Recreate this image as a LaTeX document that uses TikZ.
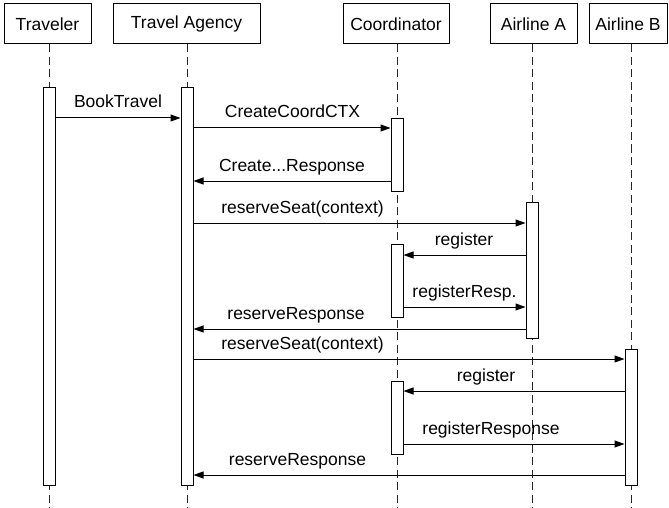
\documentclass[tikz,border=0pt]{standalone}
\usepackage{fontspec}
\setmainfont{Liberation Sans}
\usetikzlibrary{arrows.meta}

\begin{document}
\begin{tikzpicture}[x=1pt, y=-1pt, line width=1pt,
	font=\fontsize{17.5}{21}\selectfont,
	head/.style={draw, minimum height=40pt, inner sep=0pt},
	life/.style={dash pattern=on 8pt off 4.5pt, line width=0.8pt, black!85},
	bar/.style={draw, fill=white, minimum width=12pt, inner sep=0pt},
	msg/.style={-{Triangle[length=10pt,width=7pt]}},
	lbl/.style={anchor=base, inner sep=0pt}]
	\useasboundingbox (0,0) rectangle (669,508);
	% participants
	\node[head, minimum width=87pt]  (hTr) at (47.5,24)  {Traveler};
	\node[head, minimum width=147pt] (hTa) at (186.5,24) {Travel Agency};
	\node[head, minimum width=106pt] (hCo) at (396,24)   {Coordinator};
	\node[head, minimum width=87pt]  (hAa) at (533.5,24) {Airline A};
	\node[head, minimum width=78pt]  (hAb) at (628,24)   {Airline B};
	
	% lifelines
	\coordinate (eTr) at (49,508);
	\coordinate (eTa) at (187,508);
	\coordinate (eCo) at (397,508);
	\coordinate (eAa) at (532,508);
	\coordinate (eAb) at (631,508);
	\draw[life] (eTr |- hTr.south) -- (eTr);
	\draw[life] (eTa |- hTa.south) -- (eTa);
	\draw[life] (eCo |- hCo.south) -- (eCo);
	\draw[life] (eAa |- hAa.south) -- (eAa);
	\draw[life] (eAb |- hAb.south) -- (eAb);
	
	% activations
	\node[bar, minimum height=397pt] (aTr)  at (49,286.5)  {};
	\node[bar, minimum height=397pt] (aTa)  at (187,286.5) {};
	\node[bar, minimum height=72pt]  (aCo1) at (397,155)   {};
	\node[bar, minimum height=73pt]  (aCo2) at (397,280.5) {};
	\node[bar, minimum height=73pt]  (aCo3) at (397,417.5) {};
	\node[bar, minimum height=136pt] (aAa)  at (532,270)   {};
	\node[bar, minimum height=136pt] (aAb)  at (631,417)   {};
	
	% messages
	\draw[msg] (aTr.east |- 0,118) -- (aTa.west |- 0,118);
	\node[lbl] (mBook) at (118,108) {BookTravel};
	\draw[msg] (aTa.east |- 0,128) -- (aCo1.west |- 0,128);
	\node[lbl] (mCreate) at (292.5,118) {CreateCoordCTX};
	\draw[msg] (aCo1.west |- 0,181) -- (aTa.east |- 0,181);
	\node[lbl] (mCreateR) at (292,171) {Create...Response};
	\draw[msg] (aTa.east |- 0,223) -- (aAa.west |- 0,223);
	\node[lbl] (mSeatA) at (302.5,213) {reserveSeat(context)};
	\draw[msg] (aAa.west |- 0,255) -- (aCo2.east |- 0,255);
	\node[lbl] (mRegA) at (464,245) {register};
	\draw[msg] (aCo2.east |- 0,307) -- (aAa.west |- 0,307);
	\node[lbl] (mRegRA) at (464.5,297) {registerResp.};
	\draw[msg] (aAa.west |- 0,329) -- (aTa.east |- 0,329);
	\node[lbl] (mResA) at (296,319) {reserveResponse};
	\draw[msg] (aTa.east |- 0,359) -- (aAb.west |- 0,359);
	\node[lbl] (mSeatB) at (302.5,349) {reserveSeat(context)};
	\draw[msg] (aAb.west |- 0,391) -- (aCo3.east |- 0,391);
	\node[lbl] (mRegB) at (486,381) {register};
	\draw[msg] (aCo3.east |- 0,444) -- (aAb.west |- 0,444);
	\node[lbl] (mRegRB) at (491,434) {registerResponse};
	\draw[msg] (aAb.west |- 0,475) -- (aTa.east |- 0,475);
	\node[lbl] (mResB) at (297.5,465) {reserveResponse};
\end{tikzpicture}
\end{document}
